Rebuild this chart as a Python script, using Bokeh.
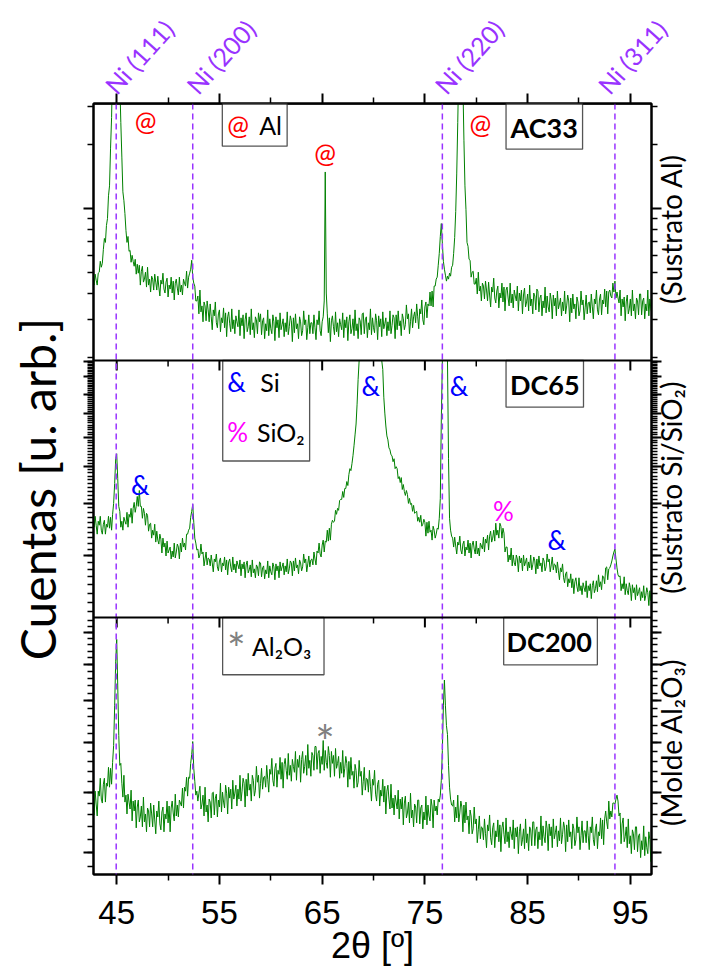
import numpy as np
from bokeh.plotting import figure
from bokeh.models import Range1d, LinearAxis, FixedTicker, Span, Label, BoxAnnotation
from bokeh.embed import file_html
from bokeh.resources import INLINE

# ---------------- data (arbitrary intensity units: height above each panel's base) -------------
# 2theta grid 42.7 ... 97.1, step 0.1 (one row per degree)
two_theta = np.round(np.arange(42.7, 97.15, 0.1), 1)

ac33 = [
    80, 76, 87,
    81, 76, 88, 89, 100, 94, 98, 112, 123, 119,
    136, 143, 166, 176, 214, 245, 300, 340, 340, 340,
    340, 340, 320, 280, 240, 205, 170, 161, 148, 131,
    119, 125, 110, 111, 99, 106, 100, 95, 102, 87,
    97, 88, 96, 76, 90, 95, 79, 82, 89, 74,
    94, 76, 82, 69, 85, 82, 71, 87, 79, 71,
    85, 74, 65, 81, 77, 88, 72, 68, 79, 83,
    64, 76, 72, 84, 68, 80, 61, 78, 82, 73,
    66, 84, 69, 76, 66, 82, 78, 75, 90, 73,
    84, 88, 92, 101, 84, 78, 75, 60, 60, 65,
    47, 71, 49, 55, 39, 59, 55, 40, 60, 51,
    39, 57, 44, 31, 51, 45, 59, 38, 33, 47,
    51, 29, 43, 38, 53, 33, 48, 24, 44, 49,
    37, 29, 52, 32, 41, 27, 45, 39, 34, 51,
    25, 43, 35, 46, 22, 41, 48, 29, 34, 44,
    26, 52, 31, 38, 23, 44, 41, 27, 48, 39,
    47, 26, 40, 43, 22, 37, 30, 51, 25, 42,
    32, 27, 46, 39, 20, 44, 33, 41, 23, 48,
    31, 36, 42, 24, 38, 29, 49, 26, 34, 45,
    40, 19, 43, 28, 47, 32, 37, 22, 44, 39,
    25, 30, 50, 36, 41, 21, 33, 46, 27, 38,
    38, 27, 46, 33, 21, 41, 36, 50, 30, 25,
    39, 44, 60, 190, 68, 47, 28, 43, 19, 40,
    45, 34, 26, 49, 29, 38, 24, 42, 36, 31,
    48, 23, 41, 33, 44, 20, 39, 46, 27, 32,
    42, 25, 51, 30, 37, 22, 43, 40, 26, 47,
    48, 27, 41, 44, 23, 38, 31, 52, 26, 43,
    33, 28, 47, 40, 21, 45, 34, 42, 24, 49,
    32, 37, 43, 25, 39, 30, 50, 27, 35, 46,
    43, 22, 46, 31, 50, 35, 40, 25, 47, 42,
    31, 36, 56, 42, 47, 27, 39, 52, 33, 44,
    49, 38, 57, 44, 32, 52, 47, 61, 41, 36,
    54, 59, 43, 57, 55, 69, 55, 70, 54, 75,
    75, 82, 84, 96, 108, 125, 138, 118, 100, 92,
    86, 80, 85, 82, 88, 85, 94, 96, 108, 124,
    150, 188, 240, 300, 340, 340, 320, 280, 222, 176,
    152, 119, 115, 102, 101, 84, 89, 90, 77, 77,
    83, 67, 89, 70, 75, 60, 78, 75, 62, 80,
    71, 60, 79, 66, 54, 74, 69, 83, 63, 58,
    70, 75, 53, 68, 63, 78, 59, 74, 50, 71,
    74, 63, 55, 78, 58, 67, 53, 71, 65, 60,
    75, 50, 68, 60, 71, 47, 66, 73, 54, 59,
    67, 50, 76, 55, 62, 47, 68, 65, 51, 72,
    70, 49, 63, 66, 45, 60, 53, 74, 48, 65,
    54, 49, 68, 61, 42, 66, 55, 63, 45, 70,
    52, 57, 63, 45, 59, 50, 70, 47, 55, 66,
    60, 39, 63, 48, 67, 52, 57, 42, 64, 59,
    45, 50, 70, 56, 61, 41, 53, 66, 47, 58,
    59, 48, 67, 54, 42, 62, 57, 71, 51, 46,
    62, 67, 46, 61, 57, 72, 54, 70, 47, 69,
    71, 65, 63, 78, 69, 80, 63, 69, 63, 58,
    71, 45, 62, 54, 64, 40, 59, 66, 47, 52,
    62, 45, 71, 50, 57, 42, 63, 60, 46, 67,
    67, 46, 60, 63, 42, 57, 50, 71, 45, 62,
    52, 47,
]

dc65 = [
    100, 91, 102,
    93, 84, 97, 93, 102, 88, 84, 94, 98, 84,
    94, 91, 102, 90, 101, 88, 104, 115, 135, 160,
    165, 140, 112, 107, 91, 97, 88, 101, 97, 94,
    106, 91, 104, 101, 110, 95, 110, 116, 106, 112,
    122, 112, 128, 112, 112, 100, 110, 105, 93, 105,
    103, 87, 94, 95, 80, 88, 83, 94, 76, 87,
    78, 74, 84, 79, 65, 80, 71, 75, 62, 77,
    65, 68, 71, 59, 67, 61, 75, 60, 66, 74,
    71, 59, 75, 66, 80, 71, 75, 68, 84, 84,
    88, 90, 101, 107, 114, 96, 80, 75, 68, 69,
    60, 63, 74, 64, 66, 52, 59, 66, 53, 60,
    59, 52, 63, 55, 46, 59, 56, 64, 51, 47,
    57, 60, 46, 55, 52, 61, 48, 58, 43, 56,
    59, 51, 46, 61, 48, 54, 45, 57, 53, 49,
    58, 42, 54, 49, 56, 40, 53, 57, 45, 48,
    53, 41, 58, 45, 49, 40, 53, 51, 42, 56,
    55, 41, 50, 52, 39, 48, 44, 57, 40, 52,
    46, 43, 55, 51, 38, 54, 47, 52, 40, 56,
    47, 51, 55, 43, 52, 46, 59, 44, 49, 57,
    55, 42, 57, 47, 60, 50, 53, 44, 58, 55,
    47, 51, 64, 55, 59, 46, 54, 62, 51, 58,
    59, 53, 66, 59, 53, 67, 65, 75, 64, 61,
    73, 78, 66, 77, 76, 88, 77, 90, 78, 94,
    98, 96, 97, 108, 104, 110, 108, 118, 119, 119,
    127, 121, 130, 130, 137, 133, 144, 150, 148, 155,
    163, 173, 184, 195, 215, 240, 270, 290, 300, 300,
    300, 300, 300, 300, 300, 300, 300, 300, 300, 300,
    300, 300, 300, 300, 300, 300, 300, 300, 290, 250,
    222, 206, 193, 183, 179, 171, 169, 164, 163, 157,
    160, 150, 152, 150, 140, 142, 136, 141, 129, 134,
    127, 123, 128, 124, 115, 120, 114, 115, 107, 113,
    105, 106, 107, 97, 101, 96, 103, 92, 94, 99,
    96, 82, 96, 85, 97, 86, 88, 78, 92, 88,
    80, 84, 90, 89, 100, 120, 200, 300, 300, 300,
    300, 300, 300, 160, 100, 88, 82, 80, 71, 81,
    72, 64, 76, 73, 82, 68, 64, 74, 77, 62,
    71, 68, 78, 65, 75, 60, 73, 77, 69, 64,
    77, 64, 70, 62, 75, 72, 69, 81, 66, 79,
    75, 83, 68, 82, 87, 76, 80, 88, 77, 95,
    83, 88, 80, 95, 92, 80, 90, 85, 66, 71,
    71, 56, 63, 58, 70, 52, 63, 55, 52, 63,
    59, 46, 62, 55, 60, 47, 63, 52, 56, 60,
    47, 56, 50, 63, 48, 53, 61, 57, 44, 59,
    49, 62, 52, 55, 46, 60, 57, 47, 51, 64,
    56, 59, 46, 53, 61, 48, 54, 53, 45, 56,
    47, 38, 50, 46, 54, 40, 35, 44, 46, 31,
    39, 35, 44, 30, 39, 24, 36, 40, 31, 26,
    40, 27, 32, 23, 35, 30, 26, 37, 20, 32,
    27, 34, 19, 32, 37, 25, 29, 37, 26, 43,
    31, 36, 28, 42, 41, 34, 50, 51, 38, 49,
    50, 53, 57, 62, 66, 69, 59, 50, 43, 41,
    42, 27, 34, 29, 41, 23, 34, 27, 23, 35,
    30, 17, 33, 25, 30, 18, 33, 22, 26, 30,
    17, 26, 20, 32, 17, 22, 30, 25, 12, 27,
    17, 30,
]

dc200 = [
    70, 60, 84,
    71, 59, 84, 79, 97, 76, 72, 91, 97, 73,
    92, 89, 108, 88, 107, 91, 113, 130, 170, 215,
    237, 190, 140, 110, 112, 92, 78, 100, 73, 80,
    61, 81, 73, 66, 85, 54, 74, 64, 75, 47,
    68, 75, 53, 58, 69, 48, 78, 53, 61, 43,
    67, 64, 48, 72, 61, 48, 70, 55, 41, 64,
    58, 74, 51, 45, 63, 68, 43, 61, 56, 74,
    52, 69, 43, 67, 74, 62, 54, 81, 59, 70,
    58, 75, 72, 69, 87, 67, 88, 84, 98, 79,
    98, 97, 112, 121, 134, 107, 94, 80, 84, 74,
    82, 89, 66, 71, 80, 59, 88, 63, 70, 53,
    76, 73, 57, 82, 83, 60, 77, 81, 58, 75,
    68, 92, 63, 83, 73, 67, 90, 82, 61, 88,
    77, 86, 66, 95, 76, 82, 90, 69, 86, 76,
    100, 74, 84, 97, 92, 68, 96, 79, 102, 85,
    91, 74, 100, 95, 79, 85, 109, 93, 100, 77,
    92, 107, 86, 98, 99, 88, 110, 96, 83, 106,
    101, 117, 95, 89, 107, 112, 88, 105, 101, 118,
    96, 113, 87, 111, 117, 105, 96, 122, 100, 110,
    94, 116, 109, 103, 124, 95, 116, 108, 120, 93,
    116, 124, 102, 109, 120, 100, 131, 107, 115, 99,
    123, 120, 105, 129, 129, 106, 122, 125, 102, 119,
    111, 135, 105, 125, 113, 107, 129, 120, 98, 124,
    112, 120, 99, 127, 107, 112, 119, 97, 113, 102,
    125, 98, 107, 119, 112, 88, 114, 96, 118, 100,
    104, 87, 111, 105, 88, 93, 115, 99, 104, 80,
    94, 108, 85, 97, 96, 83, 105, 89, 74, 96,
    90, 105, 81, 74, 91, 95, 69, 85, 79, 96,
    73, 89, 61, 84, 90, 76, 66, 91, 67, 77,
    60, 80, 73, 66, 85, 56, 76, 66, 78, 50,
    72, 79, 57, 62, 73, 52, 82, 57, 65, 48,
    71, 68, 52, 75, 75, 51, 67, 70, 46, 63,
    55, 79, 50, 70, 59, 54, 76, 69, 47, 75,
    64, 69, 60, 76, 73, 80, 95, 125, 170, 196,
    170, 150, 141, 110, 88, 76, 70, 69, 75, 53,
    68, 57, 80, 53, 62, 74, 68, 43, 70, 52,
    73, 55, 59, 41, 65, 59, 41, 46, 68, 51,
    56, 32, 45, 59, 36, 48, 47, 35, 56, 41,
    27, 50, 44, 60, 37, 30, 47, 52, 27, 44,
    38, 55, 33, 50, 23, 47, 53, 40, 31, 57,
    33, 43, 27, 48, 41, 35, 55, 26, 47, 38,
    48, 21, 43, 51, 29, 35, 46, 26, 56, 32,
    41, 24, 48, 45, 29, 53, 53, 29, 45, 48,
    26, 43, 35, 59, 29, 49, 38, 32, 54, 46,
    24, 51, 39, 48, 27, 56, 36, 42, 49, 28,
    44, 34, 57, 31, 40, 53, 47, 23, 50, 33,
    55, 38, 43, 26, 51, 46, 29, 35, 58, 42,
    48, 25, 39, 54, 32, 44, 44, 32, 54, 39,
    25, 48, 42, 58, 35, 29, 46, 51, 26, 43,
    39, 57, 36, 55, 30, 56, 64, 53, 46, 74,
    56, 64, 58, 72, 72, 71, 76, 80, 74, 59,
    62, 31, 51, 57, 33, 38, 48, 27, 56, 31,
    39, 21, 45, 41, 25, 48, 48, 23, 39, 41,
    17, 34, 25, 49, 19, 38, 27, 21, 43, 35,
    13, 40,
]

ni_positions = [44.95, 52.4, 76.7, 93.5]
ni_label_x = [44.3, 52.25, 76.4, 92.3]
ni_names = ["Ni (111)", "Ni (200)", "Ni (220)", "Ni (311)"]
x_major = [45, 55, 65, 75, 85, 95]
x_minor = [50, 60, 70, 80, 90]
sample_names = ["AC33", "DC65", "DC200"]
substrates = ["(Sustrato Al)", "(Sustrato Si/SiO\u2082)", "(Molde Al\u2082O\u2083)"]
substrate_start = [575, 283, 49]

# ---------------- layout ----------------
PH = 259.0                     # panel height (data units = px)
offsets = [2 * PH, PH, 0.0]    # AC33 top, DC65 middle, DC200 bottom
GREEN = "#008000"
PURPLE = "#9933FF"
CAL = "Lato"

p = figure(width=708, height=972, x_range=Range1d(42.74, 97.06), y_range=Range1d(0, 3 * PH),
           output_backend="svg", toolbar_location=None,
           x_axis_type=None, y_axis_type=None,
           min_border_left=93, min_border_right=55, min_border_top=97, min_border_bottom=98)
p.outline_line_color = "black"
p.outline_line_width = 2
p.background_fill_color = "white"
p.border_fill_color = "white"


def log_ticks(y_ref, v_ref, dec, values, lo, hi):
    ys = y_ref + dec * np.log10(np.asarray(values, float) / v_ref)
    return [float(y) for y in ys if lo + 0.5 < y < hi - 0.5]


maj, mnr = [], []
maj += log_ticks(2 * PH + 153.3, 10, 215, [1, 10, 100], 2 * PH, 3 * PH)
mnr += log_ticks(2 * PH + 153.3, 10, 215, [2, 3, 4, 5, 6, 7, 8, 9, 20, 30, 40], 2 * PH, 3 * PH)
maj += log_ticks(PH + 62, 2, 300, list(range(1, 11)), PH, 2 * PH)
mnr += log_ticks(PH + 62, 2, 300, [round(v, 1) for v in np.arange(1.0, 10.01, 0.1)], PH, 2 * PH)
maj += log_ticks(22, 4, 630, list(range(2, 11)), 0, PH)
mnr += log_ticks(22, 4, 630, [round(v, 1) for v in np.arange(3.0, 10.01, 0.2)], 0, PH)

yt = FixedTicker(ticks=maj, minor_ticks=mnr)
xt = FixedTicker(ticks=x_major, minor_ticks=x_minor)


def tick_axis(ticker, show_labels=False):
    ax = LinearAxis(ticker=ticker)
    ax.axis_line_width = 2
    ax.axis_line_color = "black"
    ax.major_tick_out = 10
    ax.major_tick_in = 0
    ax.minor_tick_out = 6
    ax.minor_tick_in = 0
    ax.major_tick_line_width = 2
    ax.minor_tick_line_width = 1.5
    ax.major_tick_line_color = "black"
    ax.minor_tick_line_color = "black"
    if not show_labels:
        ax.major_label_text_color = None
        ax.major_label_text_alpha = 0
        ax.major_label_text_font_size = "1px"
        ax.major_label_standoff = -2
    return ax


def label_axis(ticks, names, angle, color, size, standoff):
    ax = LinearAxis(ticker=FixedTicker(ticks=ticks, minor_ticks=[]))
    ax.major_label_overrides = {t: n for t, n in zip(ticks, names)}
    ax.major_label_orientation = angle
    ax.axis_line_color = None
    ax.major_tick_line_color = None
    ax.minor_tick_line_color = None
    ax.major_tick_out = 0
    ax.major_tick_in = 0
    ax.minor_tick_out = 0
    ax.minor_tick_in = 0
    ax.major_label_text_color = color
    ax.major_label_text_font = CAL
    ax.major_label_text_font_size = f"{size}px"
    ax.major_label_standoff = standoff
    return ax


bx = tick_axis(xt, True)
bx.major_label_text_font = "Liberation Sans"
bx.major_label_text_font_size = "33px"
bx.major_label_text_color = "black"
bx.major_label_standoff = 16
bx.axis_label = "2\u03b8 [\u00ba]"
bx.axis_label_text_font = "Liberation Sans"
bx.axis_label_text_font_size = "36px"
bx.axis_label_text_font_style = "normal"
bx.axis_label_text_color = "black"
bx.axis_label_standoff = -2
p.add_layout(bx, "below")

p.add_layout(tick_axis(xt), "above")
# Ni reflection names, stacked above the tick axis
p.add_layout(label_axis(ni_label_x, ni_names, np.radians(48), PURPLE, 25, 4), "above")

ly = tick_axis(yt)
ly.axis_label = "Cuentas [u. arb.]"
ly.axis_label_text_font = CAL
ly.axis_label_text_font_size = "48px"
ly.axis_label_text_font_style = "normal"
ly.axis_label_text_color = "black"
ly.axis_label_standoff = 18
p.add_layout(ly, "left")

p.add_layout(tick_axis(yt), "right")
# substrate names, read bottom-to-top, stacked right of the tick axis
p.add_layout(label_axis(substrate_start, substrates, np.pi / 2, "black", 28, 10), "right")

# ---------------- data lines ----------------
for vals, off in zip([ac33, dc65, dc200], offsets):
    n = len(vals)
    h = np.asarray(vals, float)
    if off < 2 * PH:
        h = np.minimum(h, PH)
    p.line(two_theta[:n], off + h, line_color=GREEN, line_width=1)

for pos in ni_positions:
    p.add_layout(Span(location=pos, dimension="height", line_color=PURPLE,
                      line_dash="6 4", line_width=1.5))

# ticks along the internal panel boundaries (pointing down)
for yb in [PH, 2 * PH]:
    p.segment(x0=x_major, y0=[yb] * len(x_major), x1=x_major, y1=[yb - 10] * len(x_major),
              line_color="black", line_width=2)
    p.segment(x0=x_minor, y0=[yb] * len(x_minor), x1=x_minor, y1=[yb - 6] * len(x_minor),
              line_color="black", line_width=1.5)

# ---------------- legend-like boxes ----------------
boxes = [
    (55.28, 61.59, 734, 777),
    (82.90, 90.35, 731, 777),
    (55.32, 63.78, 416.7, 518),
    (82.90, 90.44, 471, 518),
    (55.31, 65.18, 201.3, 259),
    (82.67, 91.79, 211.3, 259),
]
for l, r, b, t in boxes:
    p.add_layout(BoxAnnotation(left=l, right=r, bottom=b, top=t, fill_color="white",
                               fill_alpha=1.0, line_color="#555555", line_width=1.3,
                               line_alpha=1.0))

for yb in [PH, 2 * PH, 3 * PH]:
    p.add_layout(Span(location=yb, dimension="width", line_color="black", line_width=2))


def lab(x, y, text, color="black", size=25, align="left", bold=False, angle=0.0,
        baseline="middle", font=CAL):
    p.add_layout(Label(x=x, y=y, text=text, text_color=color, text_font=font,
                       text_font_size=f"{size}px", text_align=align, text_baseline=baseline,
                       text_font_style="bold" if bold else "normal", angle=angle))


lab(55.77, 755, "@", "#FF0000", 26)
lab(58.87, 755, "Al", "black", 25)
lab(55.77, 496, "&", "#0000FF", 26)
lab(58.97, 496, "Si", "black", 25)
lab(55.77, 446, "%", "#FF00FF", 26)
lab(58.66, 446, "SiO\u2082", "black", 25)
lab(56.64, 228, "*", "#808080", 44, align="center")
lab(58.16, 230, "Al\u2082O\u2083", "black", 25)

for name, off, xc in zip(sample_names, offsets, [86.62, 86.67, 87.1]):
    lab(xc, off + 235, name, "black", 27, align="center", bold=True)

lab(47.81, 759, "@", "#FF0000", 26, align="center")
lab(65.28, 727, "@", "#FF0000", 26, align="center")
lab(80.41, 756, "@", "#FF0000", 26, align="center")
lab(47.28, 393, "&", "#0000FF", 26, align="center")
lab(69.72, 492, "&", "#0000FF", 26, align="center")
lab(78.33, 492, "&", "#0000FF", 26, align="center")
lab(82.64, 366, "%", "#FF00FF", 26, align="center")
lab(87.84, 337, "&", "#0000FF", 26, align="center")
lab(65.28, 134, "*", "#808080", 46, align="center")

open("out.html", "w").write(file_html(p, INLINE))
